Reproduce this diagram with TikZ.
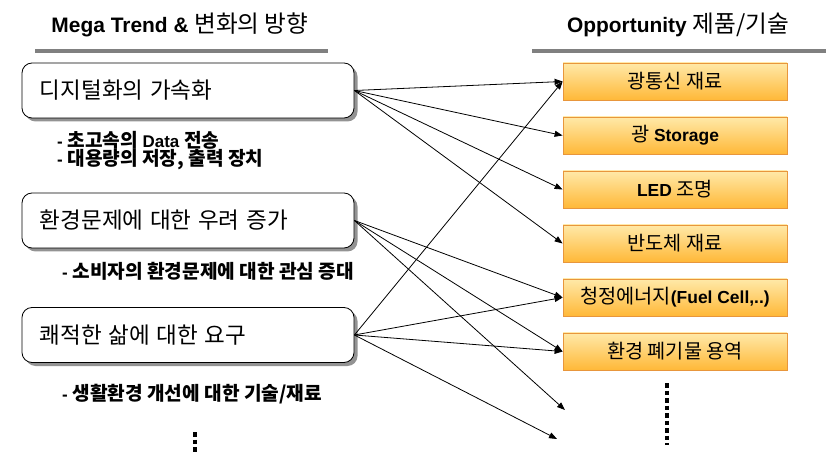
\documentclass[tikz,border=0pt]{standalone}
\usepackage{fontspec}
\setmainfont{Liberation Sans}
\newfontfamily\kr[Scale=1.13]{Noto Sans CJK KR}
\usetikzlibrary{arrows.meta,shadows}
\newcommand\K[1]{{\kr #1}}
\newcommand\KB[1]{{\kr\bfseries #1}}
\definecolor{barGray}{HTML}{808080}
\definecolor{oTop}{HTML}{FFE9A8}
\definecolor{oBot}{HTML}{FFB838}
\definecolor{oLine}{HTML}{E8963C}
\tikzset{
  hdr/.style={anchor=base, font=\fontsize{21}{25}\selectfont},
  hbar/.style={draw=barGray, line width=4bp},
  trend/.style={draw=black, line width=0.8bp, fill=white, rounded corners=10bp,
    text width=296bp, inner xsep=18bp, inner ysep=0pt, minimum height=55bp, align=left,
    font=\fontsize{20}{24}\selectfont,
    drop shadow={shadow xshift=3.5bp, shadow yshift=-3.5bp, fill=gray!85, opacity=1}},
  sub/.style={anchor=west, inner sep=0pt, font=\fontsize{17}{20}\selectfont},
  opp/.style={draw=oLine, line width=0.8bp, top color=oTop, bottom color=oBot,
    minimum width=224bp, minimum height=37bp, inner sep=0pt,
    font=\fontsize{17.5}{21}\selectfont},
  link/.style={draw=black, line width=0.8bp, -{Triangle[length=8bp,width=6bp]}},
  vdots/.style={draw=black, line width=4.5bp, dash pattern=on 4.5bp off 3bp}
}
\begin{document}
\begin{tikzpicture}[x=1bp,y=-1bp]
\useasboundingbox (0,0) rectangle (826,455);
% headers
\node[hdr] (h1) at (180,33) {\textbf{Mega Trend \&} \K{변화의 방향}};
\node[hdr] (h2) at (678,33) {\textbf{Opportunity} \K{제품/기술}};
\coordinate (b1a) at (35,51); \coordinate (b1b) at (328,51);
\coordinate (b2a) at (532,51); \coordinate (b2b) at (826,51);
\draw[hbar] (b1a) -- (b1b);
\draw[hbar] (b2a) -- (b2b);
% left trend boxes
\node[trend] (L1) at (188,90.5) {\K{디지털화의 가속화}};
\node[trend] (L2) at (188,220.5) {\K{환경문제에 대한 우려 증가}};
\node[trend] (L3) at (188,335) {\K{쾌적한 삶에 대한 요구}};
% sub bullets
\node[sub] (s1) at (57,140) {\textbf{-} \KB{초고속의} \textbf{Data} \KB{전송}};
\node[sub] (s2) at (57,160) {\textbf{-} \KB{대용량의 저장, 출력 장치}};
\node[sub] (s3) at (62,271) {\textbf{-} \KB{소비자의 환경문제에 대한 관심 증대}};
\node[sub] (s4) at (62,394) {\textbf{-} \KB{생활환경 개선에 대한 기술/재료}};
% right opportunity boxes
\node[opp] (R1) at (675,81.5) {\K{광통신 재료}};
\node[opp] (R2) at (675,135.5) {\K{광} \textbf{Storage}};
\node[opp] (R3) at (675,189.5) {\textbf{LED} \K{조명}};
\node[opp] (R4) at (675,243.5) {\K{반도체 재료}};
\node[opp] (R5) at (675,297.5) {\K{청정에너지}\textbf{(Fuel Cell,..)}};
\node[opp] (R6) at (675,351.5) {\K{환경 폐기물 용역}};
\coordinate (P1) at (565,410);
\coordinate (P2) at (557,439);
% dots
\coordinate (d1a) at (195,432); \coordinate (d1b) at (195,454);
\coordinate (d2a) at (667,383); \coordinate (d2b) at (667,445);
\draw[vdots] (d1a) -- (d1b);
\draw[vdots] (d2a) -- (d2b);
% connectors
\draw[link] (L1.east) -- (R1.west);
\draw[link] (L1.east) -- (R2.west);
\draw[link] (L1.east) -- (R3.west);
\draw[link] (L1.east) -- (R4.west);
\draw[link] (L2.east) -- (R5.west);
\draw[link] (L2.east) -- (R6.west);
\draw[link] (L2.east) -- (P1);
\draw[link] (L3.east) -- (R1.west);
\draw[link] (L3.east) -- (R5.west);
\draw[link] (L3.east) -- (R6.west);
\draw[link] (L3.east) -- (P2);
\end{tikzpicture}
\end{document}
